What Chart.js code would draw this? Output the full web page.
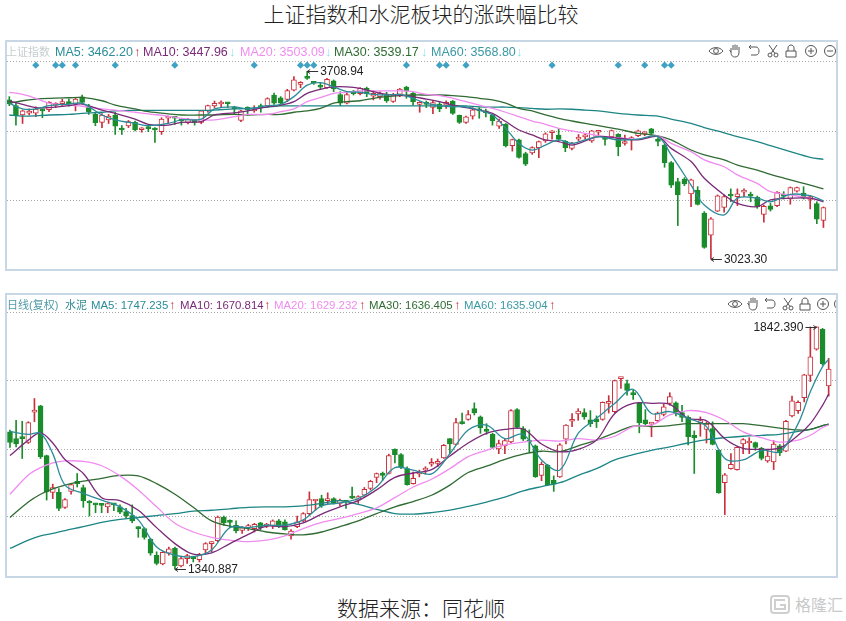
<!DOCTYPE html>
<html>
<head>
<meta charset="utf-8">
<script src="https://cdn.jsdelivr.net/npm/chart.js@4"></script>
<style>
html, body { margin: 0; padding: 0; background: #fff; }
body { width: 846px; height: 621px; position: relative; overflow: hidden; font-family: "Liberation Sans", "Noto Sans CJK SC", sans-serif; }
.caption { position: absolute; left: 0; width: 842px; text-align: center; font: 300 21px "Noto Sans CJK SC", sans-serif; color: #222; line-height: 26px; }
.panel { position: absolute; left: 5px; width: 833px; box-sizing: border-box; border: 2px solid #c8d7e6; overflow: hidden; }
.panel canvas { position: absolute; left: 0; top: 1px; }
.head { position: absolute; line-height: 14px; white-space: nowrap; }
#icons { position: absolute; left: 0; top: 0; }
.mark { position: absolute; left: 795px; top: 592px; font: 16px "Noto Sans CJK SC", sans-serif; color: #c9c9c9; letter-spacing: 0; }
</style>
</head>
<body>
<div class="caption" style="top:0">上证指数和水泥板块的涨跌幅比较</div>
<div class="panel" style="top:40px;height:231px"><canvas id="topChart" width="829" height="225"></canvas></div>
<div class="panel" style="top:293px;height:285px"><canvas id="botChart" width="829" height="280"></canvas></div>
<div class="caption" style="top:594px">数据来源：同花顺</div>
<div class="mark">格隆汇</div>
<svg id="icons" width="836" height="621"></svg>
<script>
// 上证指数 candles
const topOpen = [
  3604,3583,3549,3556,3556,3568,3568,3584,3590,3598,
  3589,3615,3581,3551,3522,3531,3549,3497,3509,3522,
  3495,3501,3501,3488,3537,3539,3532,3521,3527,3522,
  3564,3582,3589,3594,3576,3529,3577,3564,3583,3582,
  3622,3612,3606,3640,3661,3689,3668,3658,3649,3674,
  3624,3592,3634,3627,3646,3618,3616,3624,3599,3624,
  3651,3628,3588,3593,3577,3589,3585,3600,3548,3522,
  3545,3568,3561,3548,3508,3515,3437,3458,3408,3410,
  3430,3454,3484,3476,3454,3427,3461,3469,3454,3486,
  3466,3470,3478,3445,3459,3473,3480,3498,3461,3439,
  3375,3306,3315,3261,3274,3191,3110,3198,3211,3259,
  3251,3267,3257,3248,3186,3217,3218,3257,3242,3271,
  3264,3241,3225,3164
];
const topHigh = [
  3616,3592,3567,3571,3579,3571,3598,3594,3607,3607,
  3610,3622,3588,3559,3554,3551,3559,3510,3529,3527,
  3503,3512,3503,3539,3545,3543,3537,3537,3532,3566,
  3585,3600,3601,3595,3581,3566,3579,3583,3589,3612,
  3629,3616,3643,3689,3671,3708.94,3671,3665,3683,3677,
  3634,3628,3639,3649,3651,3637,3634,3632,3628,3646,
  3654,3632,3598,3600,3602,3595,3601,3602,3549,3545,
  3576,3576,3571,3551,3534,3518,3461,3461,3413,3433,
  3454,3484,3492,3498,3456,3449,3478,3481,3493,3493,
  3470,3494,3481,3476,3470,3494,3488,3500,3466,3442,
  3379,3318,3320,3315,3287,3196,3174,3257,3257,3279,
  3279,3279,3267,3253,3220,3226,3269,3269,3286,3286,
  3287,3254,3232,3213
];
const topLow = [
  3583,3512,3518,3549,3543,3539,3561,3576,3583,3581,
  3564,3590,3551,3510,3503,3518,3478,3478,3503,3491,
  3486,3488,3449,3478,3518,3515,3512,3516,3512,3517,
  3559,3576,3579,3576,3554,3525,3549,3559,3559,3579,
  3588,3583,3598,3637,3649,3679,3661,3644,3646,3634,
  3583,3589,3622,3622,3616,3604,3607,3595,3595,3616,
  3610,3585,3559,3576,3554,3561,3573,3551,3518,3518,
  3534,3537,3542,3512,3500,3432,3417,3391,3364,3405,
  3393,3449,3461,3454,3415,3421,3454,3461,3449,3469,
  3439,3464,3400,3439,3421,3470,3473,3476,3436,3358,
  3284,3145,3291,3214,3220,3062,3023.30,3196,3194,3232,
  3218,3251,3232,3208,3157,3198,3214,3242,3223,3267,
  3242,3206,3152,3138
];
const topClose = [
  3589,3546,3564,3561,3571,3564,3595,3588,3598,3589,
  3607,3595,3561,3521,3549,3545,3508,3494,3525,3494,
  3499,3499,3494,3534,3539,3537,3527,3533,3523,3564,
  3583,3592,3593,3590,3571,3564,3568,3571,3576,3609,
  3592,3592,3638,3677,3667,3683,3665,3651,3679,3644,
  3592,3624,3627,3646,3627,3628,3629,3600,3622,3644,
  3637,3598,3592,3588,3594,3571,3595,3555,3522,3542,
  3568,3564,3557,3528,3527,3437,3459,3394,3369,3430,
  3452,3480,3488,3461,3430,3445,3467,3472,3491,3491,
  3460,3492,3433,3452,3464,3491,3484,3482,3452,3375,
  3293,3257,3297,3312,3222,3065,3170,3254,3251,3253,
  3261,3271,3252,3213,3215,3204,3267,3252,3284,3284,
  3245,3251,3168,3211
];

const topMaSlots = [0,2,4,6,9,11,14,16,19,21,24,26,29,31,34,36,39,41,43,45,47,49,51,53,55,57,59,61,63,65,67,69,71,73,75,77,79,81,83,85,87,89,92,95,98,100,103,105,108,110,113,115,118,121,123];
const topMa5 = [3592,3571,3571,3583,3589,3592,3549,3531,3518,3510,3518,3531,3534,3571,3579,3571,3583,3588,3616,3658,3667,3652,3634,3632,3624,3622,3624,3610,3592,3583,3579,3579,3567,3549,3500,3445,3421,3439,3458,3445,3458,3470,3458,3461,3470,3403,3293,3220,3184,3245,3245,3232,3259,3254,3235];
const topMa10 = [3600,3588,3576,3576,3583,3589,3567,3555,3534,3515,3512,3522,3525,3549,3557,3564,3579,3585,3598,3628,3643,3652,3652,3646,3634,3624,3622,3616,3607,3598,3585,3576,3567,3555,3525,3494,3476,3458,3452,3439,3454,3470,3464,3458,3470,3427,3379,3318,3257,3226,3214,3239,3245,3245,3232];
const topMa20 = [3632,3624,3610,3592,3585,3581,3571,3567,3559,3553,3545,3537,3531,3531,3543,3551,3551,3561,3571,3598,3612,3628,3632,3637,3637,3637,3637,3634,3624,3620,3610,3598,3585,3573,3559,3543,3527,3515,3500,3491,3482,3473,3466,3461,3472,3445,3415,3385,3360,3330,3299,3269,3257,3245,3235];
const topMa30 = [3592,3601,3607,3610,3612,3613,3601,3585,3571,3561,3553,3549,3549,3549,3551,3549,3551,3551,3559,3564,3573,3592,3598,3601,3610,3616,3620,3622,3622,3622,3620,3616,3610,3604,3592,3573,3564,3549,3537,3527,3518,3510,3497,3482,3473,3458,3421,3403,3385,3366,3348,3332,3312,3293,3279];
const topMa60 = [3549,3545,3546,3549,3551,3555,3559,3564,3566,3566,3566,3566,3566,3567,3571,3573,3578,3582,3582,3582,3582,3582,3582,3582,3582,3582,3582,3582,3582,3582,3583,3582,3579,3578,3578,3576,3573,3570,3571,3570,3567,3564,3555,3549,3545,3534,3518,3503,3484,3470,3452,3437,3415,3394,3387];

// candle positions carrying a blue diamond
const topMarks = [4,7,8,10,16,25,37,44,45,46,60,65,66,69,82,92,96,99,100];
const topMarkLevel = 3731;
const topGrid = [3743,3489,3235];

// 水泥 candles
const botOpen = [
  1625,1611,1613,1603,1666,1679,1576,1500,1500,1469,
  1502,1523,1510,1481,1476,1475,1470,1476,1470,1460,
  1452,1427,1425,1403,1370,1352,1374,1384,1348,1363,
  1365,1361,1381,1394,1400,1449,1441,1432,1421,1427,
  1425,1437,1430,1431,1441,1439,1410,1429,1441,1456,
  1482,1487,1483,1487,1477,1482,1490,1484,1494,1508,
  1531,1540,1539,1589,1578,1549,1518,1538,1546,1558,
  1560,1571,1611,1599,1645,1651,1673,1656,1630,1620,
  1590,1596,1604,1671,1632,1607,1596,1535,1556,1525,
  1532,1610,1647,1662,1665,1650,1652,1651,1684,1667,
  1735,1725,1706,1685,1650,1641,1648,1661,1684,1685,
  1665,1655,1618,1644,1630,1632,1587,1520,1549,1547,
  1600,1602,1603,1591,1565,1563,1596,1585,1658,1669,
  1696,1742,1796,1837,1720
];
const botHigh = [
  1629,1649,1647,1646,1694,1680,1577,1517,1508,1487,
  1518,1539,1515,1483,1477,1476,1478,1477,1474,1467,
  1474,1429,1427,1405,1377,1377,1387,1387,1367,1372,
  1368,1374,1396,1398,1451,1451,1443,1441,1429,1434,
  1436,1438,1436,1443,1444,1443,1423,1451,1458,1501,
  1485,1494,1499,1489,1486,1483,1511,1493,1510,1525,
  1540,1542,1579,1590,1580,1553,1542,1546,1553,1570,
  1569,1599,1611,1653,1664,1669,1685,1658,1642,1622,
  1608,1611,1671,1673,1636,1629,1598,1563,1558,1534,
  1601,1640,1663,1673,1673,1669,1658,1687,1700,1732,
  1737,1732,1711,1686,1671,1644,1666,1682,1706,1687,
  1680,1658,1627,1656,1646,1646,1589,1539,1580,1594,
  1611,1613,1604,1593,1589,1607,1599,1649,1699,1689,
  1744,1842,1842.39,1839,1777
];
const botLow = [
  1593,1594,1570,1601,1646,1570,1484,1487,1462,1467,
  1496,1511,1469,1451,1458,1458,1458,1462,1456,1446,
  1437,1407,1403,1370,1350,1350,1370,1340.887,1346,1353,
  1356,1356,1374,1377,1398,1432,1427,1416,1415,1421,
  1418,1422,1427,1425,1427,1422,1403,1427,1439,1453,
  1463,1469,1476,1476,1472,1467,1487,1477,1492,1505,
  1520,1525,1538,1561,1549,1515,1517,1532,1538,1554,
  1553,1570,1580,1598,1641,1649,1660,1622,1620,1591,
  1580,1580,1602,1632,1607,1583,1531,1524,1515,1502,
  1531,1600,1636,1649,1651,1636,1634,1649,1664,1664,
  1715,1701,1692,1623,1639,1615,1645,1658,1680,1658,
  1646,1598,1539,1616,1602,1598,1498,1454,1548,1546,
  1580,1580,1587,1567,1562,1547,1576,1584,1656,1663,
  1687,1729,1794,1763,1699
];
const botClose = [
  1603,1600,1611,1644,1669,1574,1501,1510,1467,1485,
  1516,1518,1483,1478,1474,1473,1477,1474,1459,1452,
  1441,1425,1407,1374,1353,1376,1383,1348,1363,1369,
  1363,1372,1394,1396,1449,1437,1438,1420,1427,1430,
  1434,1427,1433,1441,1432,1423,1420,1439,1456,1485,
  1484,1472,1485,1478,1484,1480,1488,1491,1506,1523,
  1539,1535,1576,1578,1553,1516,1529,1540,1548,1560,
  1562,1597,1600,1644,1642,1661,1664,1633,1626,1593,
  1601,1607,1669,1634,1610,1604,1532,1558,1516,1517,
  1598,1639,1649,1668,1656,1642,1646,1686,1686,1731,
  1737,1711,1702,1644,1642,1643,1664,1677,1698,1662,
  1655,1615,1613,1648,1641,1599,1499,1536,1558,1593,
  1609,1605,1593,1570,1575,1600,1582,1647,1689,1686,
  1743,1780,1842,1766,1755
];

// 水泥 moving averages
const botMaSlots = [0,3,5,7,9,12,15,18,21,24,27,30,33,36,39,42,45,48,51,54,57,60,63,66,69,72,75,78,81,84,87,90,93,96,99,102,105,108,111,114,117,120,123,126,129,131,133,134];
const botMa5 = [1626,1620,1622,1580,1515,1498,1484,1470,1443,1387,1370,1367,1381,1427,1427,1432,1432,1443,1472,1478,1487,1511,1551,1546,1538,1580,1629,1639,1611,1620,1567,1546,1622,1653,1684,1713,1663,1667,1653,1636,1570,1567,1587,1584,1642,1708,1760,1775];
const botMa10 = [1576,1608,1623,1602,1568,1539,1489,1483,1463,1427,1394,1372,1375,1394,1413,1430,1429,1437,1455,1470,1483,1505,1531,1540,1547,1575,1602,1622,1630,1631,1600,1584,1589,1608,1663,1684,1684,1682,1653,1648,1611,1591,1589,1592,1618,1642,1680,1703];
const botMa20 = [1496,1536,1551,1561,1565,1564,1555,1534,1505,1470,1436,1418,1407,1401,1398,1401,1410,1425,1438,1446,1456,1468,1489,1511,1527,1549,1574,1587,1598,1604,1608,1606,1611,1608,1616,1636,1639,1660,1669,1665,1649,1625,1613,1604,1608,1618,1634,1639];
const botMa30 = [1448,1480,1496,1507,1515,1523,1529,1535,1534,1518,1496,1469,1441,1430,1425,1418,1414,1412,1418,1429,1441,1456,1470,1481,1494,1515,1541,1554,1568,1579,1585,1584,1596,1608,1623,1637,1636,1638,1642,1642,1642,1642,1638,1633,1629,1630,1638,1641];
const botMa60 = [1384,1401,1410,1415,1421,1429,1438,1444,1448,1452,1456,1461,1463,1466,1469,1470,1470,1472,1477,1483,1475,1465,1456,1455,1458,1463,1471,1480,1490,1503,1512,1520,1535,1549,1567,1578,1587,1594,1602,1609,1613,1616,1618,1620,1626,1630,1638,1641];
const botGrid = [1871,1731,1589,1451];

const RED = '#c9303c';
const GREEN = '#1b8c2b';
const MA_COLORS = ['#2b8c99', '#7a2a78', '#f08cf0', '#2f6b32', '#1d8585'];

// Extreme price callouts, drawn next to the wick they belong to
const calloutPlugin = {
    id: 'callouts',
    afterDatasetsDraw(chart, args, opts) {
        const ctx = chart.ctx;
        ctx.save();
        ctx.font = '12px "Liberation Sans", sans-serif';
        ctx.fillStyle = '#222';
        ctx.strokeStyle = '#333';
        ctx.lineWidth = 1;
        ctx.textBaseline = 'middle';
        opts.notes.forEach(n => {
            const px = chart.scales.x.getPixelForValue(n.idx);
            const py = Math.round(chart.scales.y.getPixelForValue(n.value)) + 0.5;
            ctx.beginPath();
            ctx.moveTo(px, py);
            ctx.lineTo(px + n.dir * 11, py);
            ctx.moveTo(px + n.dir * 3, py - 2);
            ctx.lineTo(px, py);
            ctx.lineTo(px + n.dir * 3, py + 2);
            ctx.stroke();
            ctx.textAlign = n.dir > 0 ? 'left' : 'right';
            ctx.fillText(n.text, px + n.dir * 13, py);
        });
        ctx.restore();
    }
};

function candleSets(open, high, low, close, bodyWidth) {
    const up = open.map((o, i) => close[i] >= o);
    const wick = {
        type: 'bar', order: 4, grouped: false, barThickness: 1,
        data: low.map((l, i) => ({ x: i, y: [l, high[i]] })),
        backgroundColor: up.map(u => u ? RED : GREEN)
    };
    const body = {
        type: 'bar', order: 3, grouped: false, barThickness: bodyWidth, minBarLength: 2,
        data: open.map((o, i) => ({ x: i, y: [o, close[i]] })),
        backgroundColor: up.map(u => u ? '#fff' : GREEN),
        borderColor: up.map(u => u ? RED : GREEN),
        borderWidth: 1,
        borderSkipped: false
    };
    return [wick, body];
}

function maSet(slots, values, color) {
    return {
        type: 'line', order: 1,
        data: values.map((v, i) => ({ x: slots[i], y: v })),
        borderColor: color, borderWidth: 1.3, pointRadius: 0, tension: 0.35, fill: false
    };
}

function drawPanel(id, sets, range, xRange, gridValues, notes) {
    new Chart(document.getElementById(id).getContext('2d'), {
        type: 'bar',
        data: { datasets: sets },
        plugins: [calloutPlugin],
        options: {
            responsive: false,
            animation: false,
            layout: { padding: 0, autoPadding: false },
            plugins: { legend: { display: false }, tooltip: { enabled: false }, callouts: { notes: notes } },
            scales: {
                x: { type: 'linear', display: false, offset: false, min: xRange[0], max: xRange[1] },
                y: {
                    type: 'linear', min: range[0], max: range[1],
                    afterBuildTicks: s => { s.ticks = gridValues.map(v => ({ value: v })); },
                    afterFit: s => { s.width = 0; },
                    ticks: { display: false },
                    border: { display: false, dash: [1, 2] },
                    grid: { color: '#a8a8a8', lineWidth: 1, drawTicks: false }
                }
            }
        },
    });
}

const topSets = candleSets(topOpen, topHigh, topLow, topClose, 5)
    .concat([topMa5, topMa10, topMa20, topMa30, topMa60].map((m, i) => maSet(topMaSlots, m, MA_COLORS[i])))
    .concat([{
        type: 'line', order: 0, showLine: false,
        data: topMarks.map(i => ({ x: i, y: topMarkLevel })),
        pointStyle: 'rectRot', pointRadius: 3.6, pointBorderWidth: 0, pointBackgroundColor: '#3fa2c4'
    }]);
drawPanel('topChart', topSets, [2990, 3812], [-0.35, 124.9], topGrid, [
    { idx: 45, value: 3708.94, text: '3708.94', dir: 1 },
    { idx: 106, value: 3023.30, text: '3023.30', dir: 1 }
]);

const botSets = candleSets(botOpen, botHigh, botLow, botClose, 5)
    .concat([botMa5, botMa10, botMa20, botMa30, botMa60].map((m, i) => maSet(botMaSlots, m, MA_COLORS[i])));
drawPanel('botChart', botSets, [1327, 1906], [-0.49, 135.2], botGrid, [
    { idx: 132, value: 1842.39, text: '1842.390', dir: -1 },
    { idx: 27, value: 1340.887, text: '1340.887', dir: 1 }
]);

// Header read-outs: left, top, font size, text, colour
const headLabels = [
    [6, 45, 11, '上证指数', '#c6cece'], [55, 45, 12.5, 'MA5: 3462.20', MA_COLORS[0]], [134, 45, 13, '↑', RED],
    [143, 45, 12.5, 'MA10: 3447.96', MA_COLORS[1]], [229, 45, 13, '↓', '#8fe0ee'], [240, 45, 12.5, 'MA20: 3503.09', MA_COLORS[2]],
    [325, 45, 13, '↓', '#8fe0ee'], [334, 45, 12.5, 'MA30: 3539.17', MA_COLORS[3]], [421, 45, 13, '↓', '#8fe0ee'],
    [431, 45, 12.5, 'MA60: 3568.80', '#3a98a4'], [516, 45, 13, '↓', '#8fe0ee'],
    [7, 298, 11, '日线(复权)', '#4f9aa8'], [65, 298, 11, '水泥', '#2f8a8f'], [91, 298, 11.4, 'MA5: 1747.235', MA_COLORS[0]], [169, 298, 13, '↑', RED],
    [180, 298, 11.4, 'MA10: 1670.814', MA_COLORS[1]], [264, 298, 13, '↑', RED], [274, 298, 11.4, 'MA20: 1629.232', MA_COLORS[2]],
    [359, 298, 13, '↑', RED], [369, 298, 11.4, 'MA30: 1636.405', MA_COLORS[3]], [454, 298, 13, '↑', RED],
    [464, 298, 11.4, 'MA60: 1635.904', '#3a98a4'], [549, 298, 13, '↑', RED]
];
headLabels.forEach(h => {
    const el = document.createElement('div');
    el.className = 'head';
    el.style.left = h[0] + 'px';
    el.style.top = h[1] + 'px';
    el.style.fontSize = h[2] + 'px';
    el.style.color = h[4];
    el.textContent = h[3];
    document.body.appendChild(el);
});

// Toolbar icons
const iconPaths = {
    eye: '<path d="M-7 0C-4-4.5 4-4.5 7 0C4 4.5-4 4.5-7 0Z"/><circle r="2.4"/>',
    hand: '<path d="M-4 1V-3M-2-1V-6M0-1V-6.5M2-1V-6M4 0V-4M-4 1L-5.5-1M-4 1C-4 5-2 6 0 6C3 6 4 4 4 1V0"/>',
    undo: '<path d="M-5-4H2C6-4 6 4 2 4H-3M-5-4L-3-6M-5-4L-3-2"/>',
    cut: '<circle cx="-3" cy="4" r="2"/><circle cx="3" cy="4" r="2"/><path d="M-2 2.5L4-6M2 2.5L-4-6"/>',
    lock: '<path d="M-5 0H5V6H-5ZM-3 0V-3C-3-7 3-7 3-3V0"/>',
    plus: '<circle r="5.5"/><path d="M-3 0H3M0-3V3"/>',
    minus: '<circle r="5.5"/><path d="M-3 0H3"/>'
};
const iconOrder = ['eye', 'hand', 'undo', 'cut', 'lock', 'plus', 'minus'];
const iconRows = [
    { y: 51, xs: [716, 735, 754, 773, 791, 811, 830] },
    { y: 304, xs: [735, 753, 770, 788, 805, 823, 840] }
];
document.getElementById('icons').innerHTML = iconRows.map(r => r.xs.map((x, i) =>
    `<g transform="translate(${x} ${r.y})" fill="none" stroke="#555" stroke-width="1">${iconPaths[iconOrder[i]]}</g>`
).join('')).join('') +
    '<rect x="771" y="596" width="18" height="17" rx="3" fill="none" stroke="#cfcfcf" stroke-width="2"/>' +
    '<path d="M785 600H775V609H785V605H780" fill="none" stroke="#cfcfcf" stroke-width="2"/>';
</script>
</body>
</html>
